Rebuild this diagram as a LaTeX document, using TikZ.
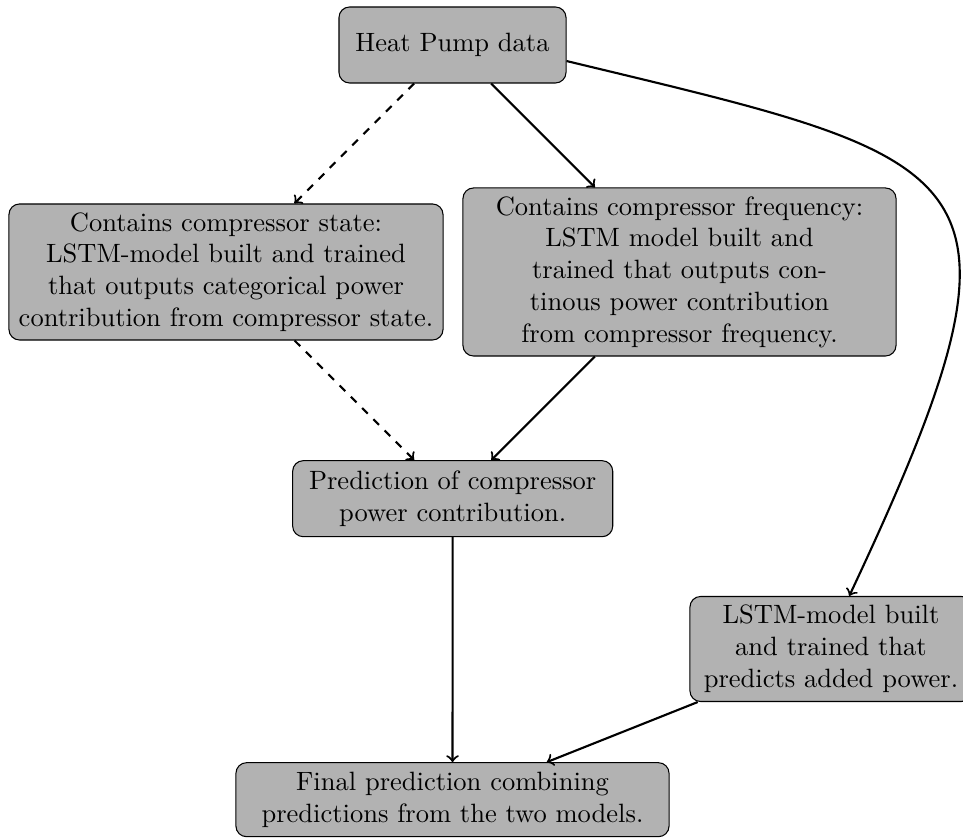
\documentclass[tikz,border=0pt]{standalone}
\usetikzlibrary{arrows}
\def\pxl{0.37736pt}
\begin{document}
\begin{tikzpicture}[x=0.013263cm, y=-0.013263cm,
  box/.style={draw=black, fill=black!30, rounded corners, align=center, inner sep=0pt},
  conn/.style={->, thick},
  dconn/.style={->, thick, dashed}]
\useasboundingbox (0,0) rectangle (963,838);
\node[box, minimum width=227*\pxl, minimum height=76*\pxl] (hp) at (452.5,45) {Heat Pump data};
\node[box, minimum width=434*\pxl, minimum height=136*\pxl] (st) at (226,272)
  {Contains compressor state:\\ LSTM-model built and trained\\ that outputs categorical power\\ contribution from compressor state.};
\node[box, minimum width=433*\pxl, minimum height=168*\pxl] (fr) at (679.5,272)
  {Contains compressor frequency:\\ LSTM model built and\\ trained that outputs con-\\ tinous power contribution\\ from compressor frequency.};
\node[box, minimum width=320*\pxl, minimum height=76*\pxl] (pc) at (452.7,498.7)
  {Prediction of compressor\\ power contribution.};
\node[box, minimum width=282*\pxl, minimum height=105*\pxl] (ap) at (831,649)
  {LSTM-model built\\ and trained that\\ predicts added power.};
\node[box, minimum width=433*\pxl, minimum height=74*\pxl] (fp) at (452.5,799.7)
  {Final prediction combining\\ predictions from the two models.};
\coordinate (c1) at (985,162);
\coordinate (c2) at (1052,165);
\draw[dconn] (hp) -- (st);
\draw[conn] (hp) -- (fr);
\draw[dconn] (st) -- (pc);
\draw[conn] (fr) -- (pc);
\draw[conn] (pc) -- (fp);
\draw[conn] (ap) -- (fp);
\draw[conn] (hp.-8) .. controls (c1) and (c2) .. (ap.71);
\end{tikzpicture}
\end{document}
